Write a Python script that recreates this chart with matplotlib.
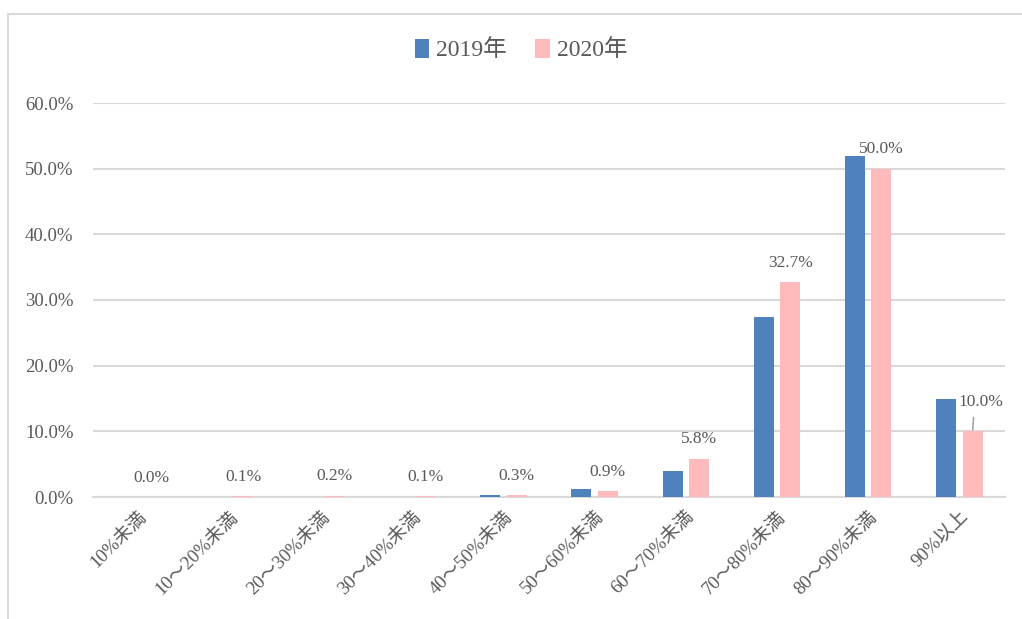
import matplotlib.pyplot as plt
import numpy as np
from matplotlib.patches import Rectangle

# データ
categories = ['10%未満', '10～20%未満', '20～30%未満', '30～40%未満', '40～50%未満',
              '50～60%未満', '60～70%未満', '70～80%未満', '80～90%未満', '90%以上']
y2019 = [0.0, 0.0, 0.0, 0.0, 0.3, 1.2, 3.9, 27.4, 52.0, 15.0]
y2020 = [0.0, 0.1, 0.2, 0.1, 0.3, 0.9, 5.8, 32.7, 50.0, 10.0]
labels2020 = ['0.0%', '0.1%', '0.2%', '0.1%', '0.3%', '0.9%', '5.8%', '32.7%', '50.0%', '10.0%']

plt.rcParams['font.family'] = ['Liberation Serif', 'Noto Sans CJK JP', 'DejaVu Sans']
txt = '#595959'
grid = '#d9d9d9'

fig = plt.figure(figsize=(10.22, 6.19), dpi=100)
# 枠線
fig.patches.append(Rectangle((8 / 1022, -0.05), 1.2, 1 - 14 / 619 + 0.05,
                             transform=fig.transFigure, fill=False,
                             edgecolor=grid, linewidth=1.5))

ax = fig.add_axes([93 / 1022, 1 - 497 / 619, 912 / 1022, (497 - 103) / 619])

x = np.arange(len(categories))
w = 0.22
off = 0.145
b1 = ax.bar(x - off, y2019, w, color='#4f81bd', label='2019年', zorder=3)
b2 = ax.bar(x + off, y2020, w, color='#ffbbbb', label='2020年', zorder=3)

ax.set_xlim(-0.5, len(categories) - 0.5)
ax.set_ylim(0, 60)
ax.set_yticks(np.arange(0, 61, 10))
ax.set_yticklabels([f'{v:.1f}%' for v in np.arange(0, 61, 10)], fontsize=13.5, color=txt)
ax.set_xticks(x)
ax.set_xticklabels(categories, rotation=45, ha='right', rotation_mode='anchor',
                   fontsize=13.5, color=txt)
ax.tick_params(length=0, pad=8)
ax.tick_params(axis='y', pad=14)
ax.grid(axis='y', color=grid, linewidth=1.5, zorder=0)
for s in ['top', 'right', 'left']:
    ax.spines[s].set_visible(False)
ax.spines['bottom'].set_color(grid)
ax.spines['bottom'].set_linewidth(1.5)

# データラベル（2020年）
for i, (v, lab) in enumerate(zip(y2020, labels2020)):
    if i == 9:
        ax.annotate(lab, xy=(i + off, v), xytext=(i + off + 0.09, v + 4.4),
                    ha='center', va='center', fontsize=12.5, color=txt,
                    arrowprops=dict(arrowstyle='-', color='#a6a6a6', lw=1.2,
                                    shrinkA=3, shrinkB=1,
                                    relpos=(0.35, 0.0)))
    else:
        ax.annotate(lab, xy=(i + off, v), xytext=(0, 14), textcoords='offset points',
                    ha='center', va='center', fontsize=12.5, color=txt)

fig.legend(handles=[b1, b2], loc='center', bbox_to_anchor=(0.51, 1 - 50 / 619),
           ncol=2, frameon=False, fontsize=17, handlelength=0.6, handleheight=0.9,
           handletextpad=0.3, columnspacing=1.2, labelcolor=txt)

fig.savefig('out.png', dpi=100)
